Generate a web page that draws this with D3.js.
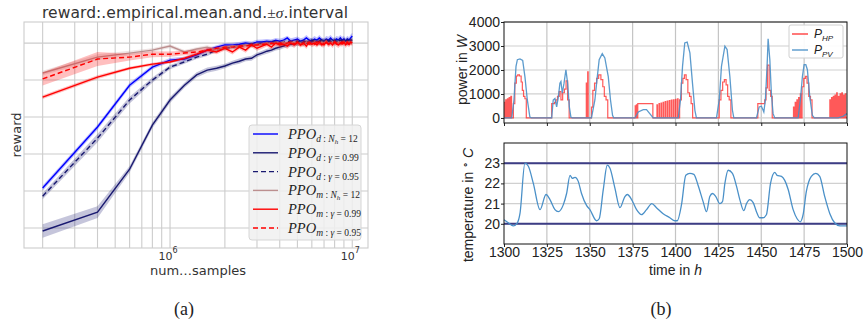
<!DOCTYPE html>
<html>
<head>
<meta charset="utf-8">
<script src="https://cdn.jsdelivr.net/npm/d3@7"></script>
<style>
  body { margin: 0; background: #fff; }
  svg { display: block; }
</style>
</head>
<body>
<div id="chart"></div>
<script>
// ---------- data: panel (a) ----------
// training samples, in units of 1e5
const sampleSteps = [2,4,6,8,10,12,14,16,18,20,22,24,26,28,30,32,34,36,38,40,42,44,46,48,50,
  52,54,56,58,60,62,64,66,68,70,72,74,76,78,80,82,84,86,88,90,92,94,96,98,100];

const dNhMean = [-392,-227,-114,-65,-46,-43,-32,-19,-11,-5,-5,-3,0,-3,3,3,5,3,8,5,
  8,14,5,8,11,5,8,14,8,5,11,8,14,8,5,11,8,14,8,5,11,8,14,8,11,5,11,8,14,19];
const dNhSd = [7,7,7,6,6,6,5,5,5,5,6,6,6,7,6,7,6,7,6,7,7,6,8,7,7,8,7,8,7,8,8,7,8,7,8,8,9,8,8,9,8,9,8,9,8,9,9,8,9,9];

const d099Mean = [-508,-457,-341,-222,-154,-114,-86,-73,-68,-62,-54,-49,-43,-41,-32,-27,-22,-19,-14,-11,
  -8,-5,-3,-3,0,0,3,0,3,3,5,3,5,3,5,8,5,3,5,8,5,5,8,5,8,5,8,5,8,8];
const d099Sd = [18,16,9,8,8,7,7,7,7,6,6,7,6,7,6,6,7,6,6,7,6,7,6,6,7,6,7,6,6,7,6,7,6,6,7,6,7,6,6,7,6,7,6,6,7,6,7,6,6,7];

const d095Mean = [-414,-257,-154,-100,-65,-51,-38,-30,-19,-14,-11,-8,-5,-3,-3,0,0,3,3,0,
  3,5,3,5,5,3,5,3,5,8,5,3,5,8,5,3,5,8,5,5,3,5,8,5,3,5,8,5,8,5];
const d095Sd = [8,11,9,7,6,5,5,5,5,5,5,5,5,6,5,6,5,6,5,6,6,5,6,6,5,6,6,5,6,6,5,6,6,5,6,6,5,6,6,5,6,6,5,6,6,5,6,6,5,6];

const mNhMean = [-81,-38,-27,-19,-8,-24,-16,-11,-19,-11,-8,-11,-5,-8,-3,-5,0,-3,0,-3,
  3,-3,0,3,-3,0,-5,3,0,-3,3,0,-3,3,0,5,-3,0,3,-3,0,3,-3,0,3,0,-3,3,0,3];
const mNhSd = [6,8,6,5,5,5,5,5,5,5,5,5,5,5,5,5,5,5,5,5,6,5,6,5,6,5,6,5,6,5,6,5,6,5,6,5,6,5,6,5,6,5,6,5,6,5,6,5,6,5];

const m099Mean = [-146,-92,-68,-57,-51,-41,-30,-19,-24,-14,-24,-11,-19,-5,-14,-8,-3,-11,0,-5,
  -3,-8,0,-5,3,-5,0,-8,3,-3,0,-5,3,-3,-5,3,-3,0,-5,3,-3,-5,0,-3,3,-5,0,-3,3,0];
const m099Sd = [5,5,4,4,4,5,5,6,6,6,7,6,7,6,7,7,6,7,7,8,7,8,7,8,8,7,8,8,7,8,8,7,8,8,7,8,8,7,8,8,7,8,8,7,8,8,7,8,8,8];

const m095Mean = [-97,-43,-38,-30,-30,-27,-24,-19,-14,-11,-11,-8,-8,-5,-5,-3,-3,0,-3,0,
  -3,0,3,-3,0,-5,0,3,-3,0,-3,3,0,-5,0,3,-3,0,-3,3,0,-3,0,3,-3,0,3,-3,0,0];
const m095Sd = [18,19,9,8,7,6,6,6,5,5,5,5,5,5,5,5,5,5,5,5,5,5,5,5,5,5,5,5,5,5,5,5,5,5,5,5,5,5,5,5,5,5,5,5,5,5,5,5,5,5];

const rewardTicks = [-500,-400,-300,-200,-100,0];

// ---------- data: panel (b) ----------
const hpTime = [1300,1300.4,1301,1301.4,1302,1302.4,1303,1303.4,1304,1304.4,
  1305.5,1306.3,1307.2,1308,1309,1310,1310.7,1311.4,1312.2,1313,
  1327.8,1329.5,1330.3,1331.2,1332.2,1333.2,1334.2,1335.2,1336.2,1337.1,1338,
  1348,1348.3,1348.8,1349.1,
  1351,1351.8,1352.8,1354,1355.2,1356.5,1357.6,1358.5,1359.5,1360.5,
  1376.5,1376.8,1377.2,1377.5,1378,1386.8,
  1389.2,1389.5,1390.4,1390.7,1391.6,1391.9,1392.8,1393.1,1394,1394.3,1395.2,1395.5,
  1396.4,1396.7,1397.6,1397.9,1398.8,1399.1,1400,1400.3,1401.2,1401.5,
  1402.4,1403.4,1404.3,1405.2,1406.2,1407.2,1408.2,1409.1,1410,
  1425.5,1426.5,1427.5,1428.5,1429.5,1430.4,1431.3,1432.3,
  1448,1452,1452.8,1453.6,1454.6,1455.5,1456.4,
  1468.8,1469.1,1469.8,1470.1,1470.8,1471.1,1471.8,1472.1,1472.8,1473.1,
  1473.8,1474.8,1475.8,1476.7,1477.7,1478.7,1479.6,
  1490,1490.3,1491,1491.3,1492,1492.3,1493,1493.3,1494,1494.3,1495,1495.3,
  1496,1496.3,1497,1497.3,1498,1498.3,1499,1499.3,1500];
const hpValue = [650,0,750,0,800,0,850,0,900,0,
  600,1450,1750,1800,1750,1500,1150,900,800,0,
  600,650,750,900,1100,750,1050,1200,1550,750,0,
  1450,0,1920,0,
  450,1150,1450,1650,1800,1600,1300,900,750,0,
  500,0,550,0,600,0,
  550,0,600,0,620,0,650,0,680,0,700,0,
  720,0,740,0,760,0,780,0,800,0,
  750,1450,1650,1800,1600,1050,900,600,0,
  750,1150,1500,1600,1380,900,750,0,
  600,750,1250,2200,1150,900,0,
  450,0,650,0,750,0,850,0,1000,0,
  1300,1650,1730,1450,900,750,0,
  750,0,850,0,900,0,950,0,1050,0,900,0,
  1000,0,1050,0,950,0,1000,0,0];

const pvTime = [1300,1304.5,1305.8,1307,1307.8,1309.3,1310.9,1312.2,1313.6,1315.1,1316,
  1327.8,1328.7,1329.7,1330.7,1331.7,1332.6,1333.2,1334,1335,1336.1,1337.1,1338.1,1339,1339.8,
  1351,1353,1354,1355.5,1357.3,1358.8,1360.8,1362.1,1363.3,1364,
  1376.3,1378.3,1381.2,1383.1,1385,1387,
  1401.6,1402.9,1404.1,1405.4,1406.8,1408.4,1409.9,1411.3,1412.2,
  1423.9,1425.5,1426.8,1428.8,1430.1,1431.7,1433.2,1434,
  1447.2,1448.8,1450.1,1451.5,1452.4,1453.4,1454,1455,1455.9,1456.9,1457.9,
  1471.5,1472.8,1474,1475,1476,1476.9,1478.3,1479.8,1481,
  1494.8,1497.7,1500];
const pvValue = [0,0,750,2150,2430,2460,2400,1720,750,40,0,
  0,750,810,460,880,1450,1520,1030,1450,2010,1450,460,40,0,
  0,750,1450,2430,2680,2500,1720,750,110,0,
  0,250,350,350,180,0,
  0,750,2150,3130,3160,2710,1450,320,0,
  0,750,2150,2990,2850,1730,320,0,
  0,460,490,250,750,2150,3300,2430,1030,180,0,
  0,750,1730,2220,2220,2010,880,110,0,
  0,70,180];

const tempTime = [1300,1302.5,1305.4,1307.8,1309.3,1312.2,1314.2,1317.1,1321,1324.5,1326.8,1329.7,1331.7,
  1334.6,1336.5,1338.5,1339.8,1341.4,1343.3,1345.2,1348.2,1350.1,1354,1355.5,1357.9,1360.2,1361.8,
  1364.7,1367.6,1370.5,1371.9,1374.4,1377.3,1380.2,1383.1,1386.2,1388.9,1392.8,1396.7,1399.6,1401,
  1403.5,1406,1408.4,1410.7,1413.2,1416.1,1418.1,1420,1421.6,1423.5,1425.8,1427.4,1428.8,1430.7,
  1433.2,1435.6,1437.5,1439.8,1441.4,1443.3,1445.3,1447.2,1449.1,1451,1453,1455.4,1457.9,1459.2,
  1461.8,1463.7,1465.7,1468.6,1470.9,1472.8,1474.4,1476.3,1479.2,1481.8,1484.1,1487,1490,1492.8,
  1495.8,1500];
const tempValue = [20.2,20.05,19.9,20.05,20.5,23.0,22.85,22.0,20.7,21.45,21.2,20.7,20.6,
  20.95,21.5,22.4,22.25,22.3,22.1,21.5,20.9,20.7,20.15,20.25,21.7,22.9,22.75,
  21.75,20.8,21.35,21.45,21.2,20.7,20.45,20.7,21.0,20.8,20.5,20.3,20.15,20.15,
  20.95,22.4,22.5,22.45,21.9,21.1,20.6,21.35,21.5,21.35,21.0,21.1,22.0,22.65,
  22.5,21.85,21.2,20.65,21.0,21.2,21.05,20.6,20.3,20.3,20.45,22.0,22.55,22.4,
  22.35,22.15,21.7,20.7,20.25,20.1,20.45,21.6,22.35,22.5,22.35,21.35,20.5,20.05,
  19.9,19.9];
const tempBounds = [20, 23];

const timeTicks = [1300,1325,1350,1375,1400,1425,1450,1475,1500];
const powerTicks = [0,1000,2000,3000,4000];
const tempTicks = [20,21,22,23];

// ---------- frame ----------
const WIDTH = 864, HEIGHT = 329;
const SANS = "'Liberation Sans', Arial, sans-serif";
const DEJAVU = "'DejaVu Sans', sans-serif";
const SERIF = "'Liberation Serif', 'DejaVu Serif', serif";
const GRID = "#cccccc";

const svg = d3.select("#chart").append("svg")
  .attr("width", WIDTH).attr("height", HEIGHT);

// ================= panel (a) =================
const PA = {left: 24, right: 368, top: 22, bottom: 248};
const xA = d3.scaleLog().domain([1.58e5, 1.22e7]).range([PA.left, PA.right]);
const yA = d3.scaleLinear().domain([-554, 57]).range([PA.bottom, PA.top]);

const gA = svg.append("g");

// grid
gA.selectAll(".vgrid").data(xA.ticks()).enter().append("line")
  .attr("x1", d => xA(d)).attr("x2", d => xA(d))
  .attr("y1", PA.top).attr("y2", PA.bottom)
  .attr("stroke", GRID).attr("stroke-width", 1.1);
gA.selectAll(".hgrid").data(rewardTicks).enter().append("line")
  .attr("x1", PA.left).attr("x2", PA.right)
  .attr("y1", d => yA(d)).attr("y2", d => yA(d))
  .attr("stroke", GRID).attr("stroke-width", 1.1);
gA.append("rect")
  .attr("x", PA.left).attr("y", PA.top)
  .attr("width", PA.right - PA.left).attr("height", PA.bottom - PA.top)
  .attr("fill", "none").attr("stroke", GRID).attr("stroke-width", 1.1);

const seriesA = [
  {mean: dNhMean,  sd: dNhSd,  color: "#0000ff", dash: null, sub: "d", cond: "Nh", val: "12"},
  {mean: d099Mean, sd: d099Sd, color: "#191970", dash: null, sub: "d", cond: "g",  val: "0.99"},
  {mean: d095Mean, sd: d095Sd, color: "#191970", dash: "5,3", sub: "d", cond: "g", val: "0.95"},
  {mean: mNhMean,  sd: mNhSd,  color: "#bc8f8f", dash: null, sub: "m", cond: "Nh", val: "12"},
  {mean: m099Mean, sd: m099Sd, color: "#ff0000", dash: null, sub: "m", cond: "g",  val: "0.99"},
  {mean: m095Mean, sd: m095Sd, color: "#ff0000", dash: "5,3", sub: "m", cond: "g", val: "0.95"}
];

seriesA.forEach(s => {
  const pts = sampleSteps.map((k, i) => ({x: k * 1e5, m: s.mean[i], sd: s.sd[i]}));
  gA.append("path").datum(pts)
    .attr("d", d3.area().x(d => xA(d.x)).y0(d => yA(d.m - d.sd)).y1(d => yA(d.m + d.sd)))
    .attr("fill", s.color).attr("fill-opacity", 0.25).attr("stroke", "none");
  gA.append("path").datum(pts)
    .attr("d", d3.line().x(d => xA(d.x)).y(d => yA(d.m)))
    .attr("fill", "none").attr("stroke", s.color).attr("stroke-width", 1.4)
    .attr("stroke-dasharray", s.dash);
});

// x tick labels 10^6, 10^7
[1e6, 1e7].forEach(v => {
  const t = gA.append("text").attr("x", xA(v) - 2).attr("y", 260)
    .attr("text-anchor", "middle").attr("font-family", DEJAVU).attr("font-size", 11).attr("fill", "#333");
  t.append("tspan").text("10");
  t.append("tspan").attr("dy", -7).attr("font-size", 8).text(Math.round(Math.log10(v)));
});

// axis labels and title
gA.append("text").attr("x", (PA.left + PA.right) / 2 + 2).attr("y", 275)
  .attr("text-anchor", "middle").attr("font-family", DEJAVU).attr("font-size", 13).attr("fill", "#333")
  .text("num\u2026samples");
gA.append("text").attr("transform", "translate(21," + ((PA.top + PA.bottom) / 2) + ") rotate(-90)")
  .attr("text-anchor", "middle").attr("font-family", DEJAVU).attr("font-size", 13).attr("fill", "#333")
  .text("reward");
const title = gA.append("text").attr("x", 42).attr("y", 18)
  .attr("textLength", 306).attr("lengthAdjust", "spacing")
  .attr("font-family", DEJAVU).attr("font-size", 15.5).attr("fill", "#333");
title.append("tspan").text("reward:.empirical.mean.and.");
title.append("tspan").attr("font-family", SERIF).text("\u00b1");
title.append("tspan").attr("font-family", SERIF).attr("font-style", "italic").text("\u03c3");
title.append("tspan").text(".interval");

// legend
const LA = {x: 249, y: 125, w: 112, h: 115, row: 18.8};
gA.append("rect").attr("x", LA.x).attr("y", LA.y).attr("width", LA.w).attr("height", LA.h)
  .attr("rx", 3).attr("fill", "#f0f0f0").attr("fill-opacity", 0.85)
  .attr("stroke", "#d6d6d6");
seriesA.forEach((s, i) => {
  const cy = LA.y + 9 + i * LA.row;
  gA.append("line").attr("x1", LA.x + 4).attr("x2", LA.x + 29).attr("y1", cy).attr("y2", cy)
    .attr("stroke", s.color).attr("stroke-width", 1.4).attr("stroke-dasharray", s.dash);
  const t = gA.append("text").attr("x", LA.x + 39).attr("y", cy + 5)
    .attr("font-family", SERIF).attr("font-size", 14.5).attr("fill", "#222");
  t.append("tspan").attr("font-style", "italic").text("PPO");
  t.append("tspan").attr("dy", 3).attr("font-size", 9.5).attr("font-style", "italic").text(s.sub);
  t.append("tspan").attr("font-size", 9.5).text(" : ");
  if (s.cond === "Nh") {
    t.append("tspan").attr("font-size", 9.5).attr("font-style", "italic").text("N");
    t.append("tspan").attr("dy", 2).attr("font-size", 7).attr("font-style", "italic").text("h");
    t.append("tspan").attr("dy", -2).attr("font-size", 9.5).text(" = " + s.val);
  } else {
    t.append("tspan").attr("font-size", 9.5).attr("font-style", "italic").text("\u03b3");
    t.append("tspan").attr("font-size", 9.5).text(" = " + s.val);
  }
});

// ================= panel (b) =================
const PB = {left: 504, right: 847};
const PT = {top: 22, bottom: 123};
const PL = {top: 143, bottom: 244};
const xB = d3.scaleLinear().domain([1300, 1500]).range([PB.left, PB.right]);
const yP = d3.scaleLinear().domain([-210, 4000]).range([PT.bottom, PT.top]);
const yT = d3.scaleLinear().domain([19, 24]).range([PL.bottom, PL.top]);

const gB = svg.append("g");

function drawGrid(yScale, ticks, box) {
  gB.selectAll(null).data(timeTicks.slice(1, -1)).enter().append("line")
    .attr("x1", d => xB(d)).attr("x2", d => xB(d))
    .attr("y1", box.top).attr("y2", box.bottom)
    .attr("stroke", "#c4c4c4").attr("stroke-width", 1.2);
  gB.selectAll(null).data(ticks).enter().append("line")
    .attr("x1", PB.left).attr("x2", PB.right)
    .attr("y1", d => yScale(d)).attr("y2", d => yScale(d))
    .attr("stroke", "#d0d0d0").attr("stroke-width", 1.2);
}

function drawFrame(box, yScale, ticks, showX) {
  const yAxis = gB.append("g").attr("transform", "translate(" + PB.left + ",0)")
    .call(d3.axisLeft(yScale).tickValues(ticks).tickSize(3).tickPadding(1)
      .tickFormat(d3.format("d")));
  const xAxis = gB.append("g").attr("transform", "translate(0," + box.bottom + ")")
    .call(d3.axisBottom(xB).tickValues(timeTicks).tickSize(3).tickPadding(0)
      .tickFormat(showX ? d3.format("d") : ""));
  [yAxis, xAxis].forEach(a => {
    a.select(".domain").remove();
    a.selectAll("text").attr("font-family", SANS).attr("font-size", 14).attr("fill", "#222");
    a.selectAll("line").attr("stroke", "#222");
  });
  gB.append("rect").attr("x", PB.left).attr("y", box.top)
    .attr("width", PB.right - PB.left).attr("height", box.bottom - box.top)
    .attr("fill", "none").attr("stroke", "#111").attr("stroke-width", 1);
}

// top: power
drawGrid(yP, powerTicks, PT);
const hpPts = hpTime.map((t, i) => [t, hpValue[i]]);
const pvPts = pvTime.map((t, i) => [t, pvValue[i]]);
gB.append("path").datum(hpPts)
  .attr("d", d3.line().curve(d3.curveStepAfter).x(d => xB(d[0])).y(d => yP(d[1])))
  .attr("fill", "none").attr("stroke", "#ff3030").attr("stroke-opacity", 0.8).attr("stroke-width", 1.2);
gB.append("path").datum(pvPts)
  .attr("d", d3.line().x(d => xB(d[0])).y(d => yP(d[1])))
  .attr("fill", "none").attr("stroke", "#4a90c8").attr("stroke-opacity", 0.9).attr("stroke-width", 1.3);
drawFrame(PT, yP, powerTicks, false);

// legend (b)
const LB = {x: 789, y: 25, w: 54, h: 33};
gB.append("rect").attr("x", LB.x).attr("y", LB.y).attr("width", LB.w).attr("height", LB.h)
  .attr("rx", 2).attr("fill", "#fff").attr("fill-opacity", 0.9).attr("stroke", "#d0d0d0");
[["HP", "#ff3030"], ["PV", "#4a90c8"]].forEach((e, i) => {
  const cy = LB.y + 9 + i * 16;
  gB.append("line").attr("x1", LB.x + 3).attr("x2", LB.x + 19).attr("y1", cy).attr("y2", cy)
    .attr("stroke", e[1]).attr("stroke-width", 1.3);
  const t = gB.append("text").attr("x", LB.x + 25).attr("y", cy + 4)
    .attr("font-family", SANS).attr("font-style", "italic").attr("font-size", 12).attr("fill", "#222");
  t.append("tspan").text("P");
  t.append("tspan").attr("dy", 3).attr("font-size", 8).text(e[0]);
});

const pl = gB.append("text").attr("transform", "translate(467," + 70 + ") rotate(-90)")
  .attr("text-anchor", "middle").attr("font-family", SANS).attr("font-size", 14).attr("fill", "#222");
pl.append("tspan").text("power in ");
pl.append("tspan").attr("font-style", "italic").text("W");

// bottom: temperature
drawGrid(yT, tempTicks, PL);
gB.selectAll(null).data(tempBounds).enter().append("line")
  .attr("x1", PB.left).attr("x2", PB.right)
  .attr("y1", d => yT(d)).attr("y2", d => yT(d))
  .attr("stroke", "#3d3d85").attr("stroke-width", 2);
gB.append("path").datum(tempTime.map((t, i) => [t, tempValue[i]]))
  .attr("d", d3.line().curve(d3.curveMonotoneX).x(d => xB(d[0])).y(d => yT(d[1])))
  .attr("fill", "none").attr("stroke", "#4a90c8").attr("stroke-width", 1.3);
drawFrame(PL, yT, tempTicks, true);

const tl = gB.append("text").attr("transform", "translate(473," + 205 + ") rotate(-90)")
  .attr("text-anchor", "middle").attr("font-family", SANS).attr("font-size", 14).attr("fill", "#222");
tl.append("tspan").text("temperature in ");
tl.append("tspan").attr("dy", -5).attr("font-size", 10).text("\u2218");
tl.append("tspan").attr("dy", 5).attr("font-style", "italic").text(" C");

const xl = gB.append("text").attr("x", (PB.left + PB.right) / 2).attr("y", 275)
  .attr("text-anchor", "middle").attr("font-family", SANS).attr("font-size", 14).attr("fill", "#222");
xl.append("tspan").text("time in ");
xl.append("tspan").attr("font-style", "italic").text("h");

// panel captions
svg.append("text").attr("x", 184).attr("y", 315).attr("text-anchor", "middle")
  .attr("font-family", SERIF).attr("font-size", 18).attr("fill", "#222").text("(a)");
svg.append("text").attr("x", 661).attr("y", 315).attr("text-anchor", "middle")
  .attr("font-family", SERIF).attr("font-size", 18).attr("fill", "#222").text("(b)");
</script>
</body>
</html>
